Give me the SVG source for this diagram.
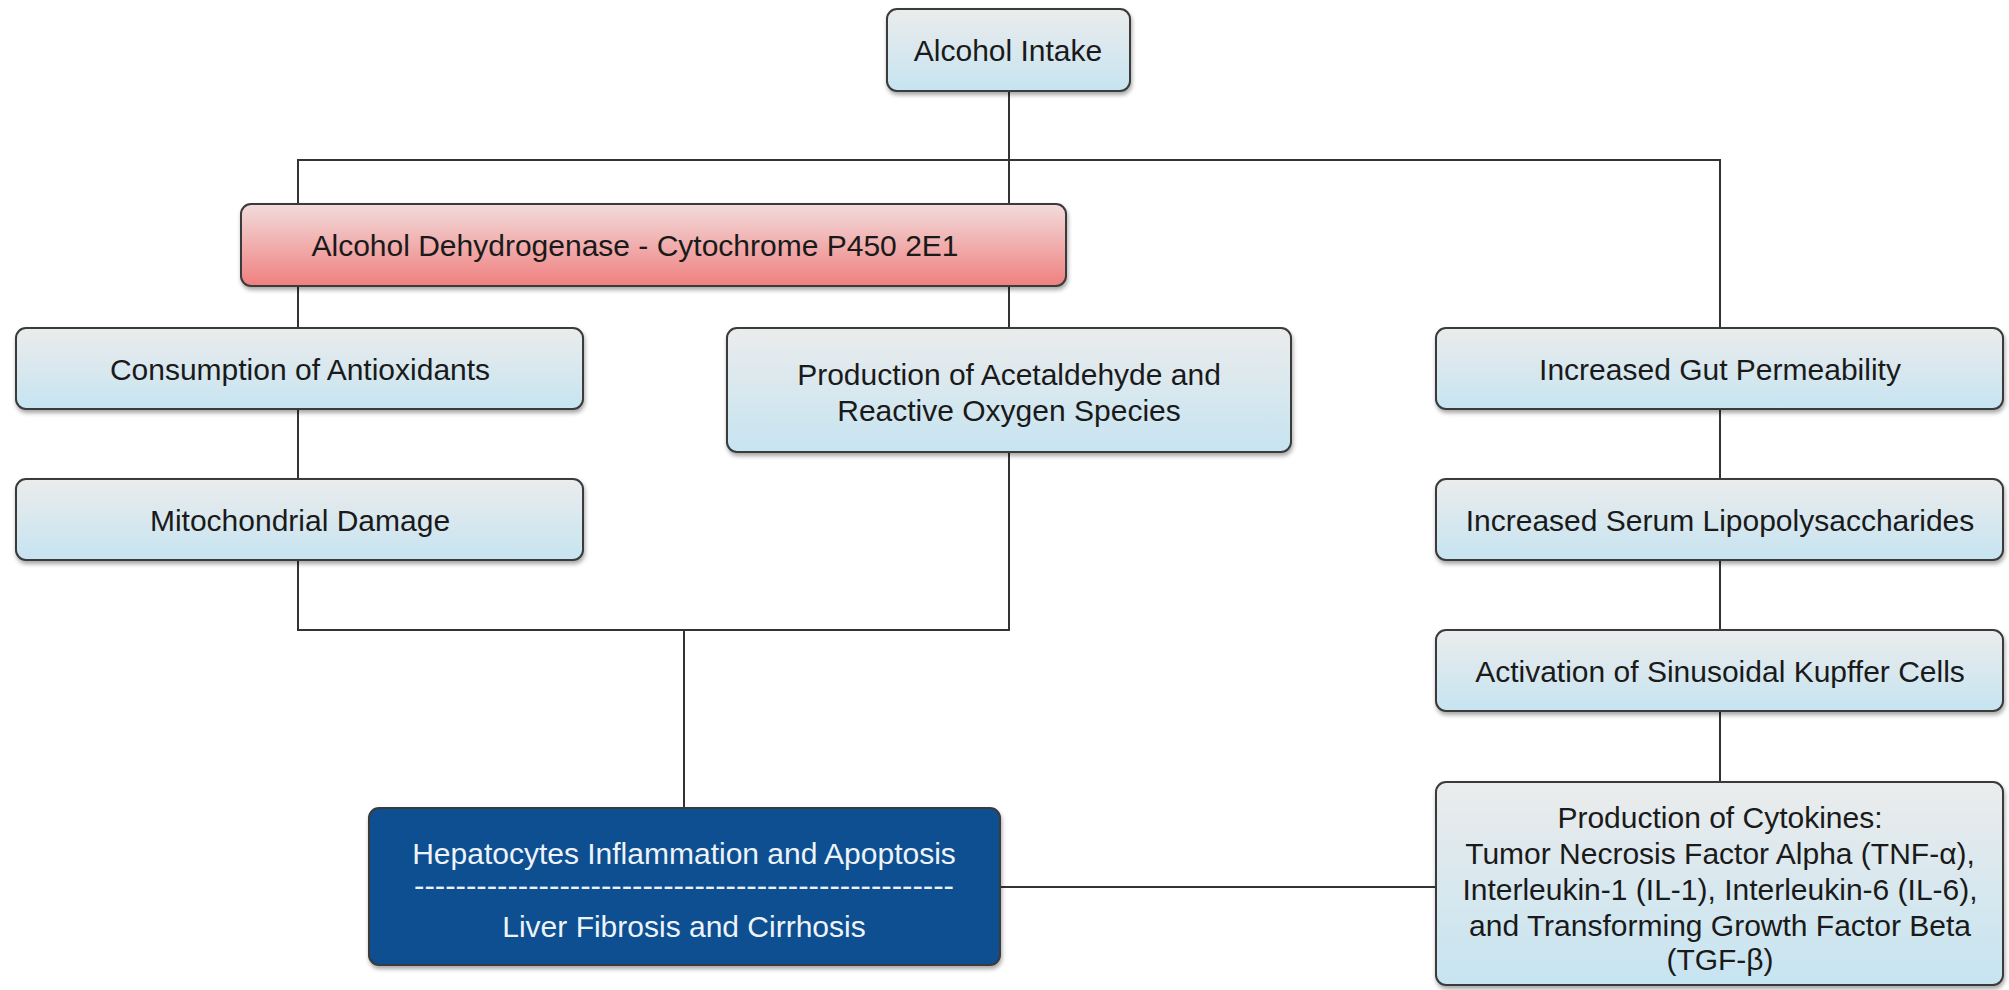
<svg xmlns="http://www.w3.org/2000/svg" width="2009" height="990" viewBox="0 0 2009 990">
<style>
  .box { stroke: #3a3a3a; stroke-width: 2; filter: url(#shadow); }
  .blue { fill: url(#gBlue); }
  .red { fill: url(#gRed); }
  .dark { fill: #0e4f90; }
  .t { font-family: "Liberation Sans", Arial, Helvetica, sans-serif; font-size: 30px; fill: #1a1a1a; text-anchor: middle; }
  .w { fill: #eef3f9; }
  .conn { stroke: #333; stroke-width: 2; fill: none; }
</style>
<defs>
  <linearGradient id="gBlue" x1="0" y1="0" x2="0" y2="1">
    <stop offset="0" stop-color="#ebecec"/>
    <stop offset="1" stop-color="#c6e4f1"/>
  </linearGradient>
  <linearGradient id="gRed" x1="0" y1="0" x2="0" y2="1">
    <stop offset="0" stop-color="#f2dcdc"/>
    <stop offset="1" stop-color="#f07f7f"/>
  </linearGradient>
  <filter id="shadow" x="-5%" y="-10%" width="110%" height="130%">
    <feDropShadow dx="1" dy="3" stdDeviation="2" flood-color="#000" flood-opacity="0.35"/>
  </filter>
</defs>
<rect width="2009" height="990" fill="#ffffff"/>

<g id="connectors">
  <line class="conn" x1="1009" y1="91" x2="1009" y2="204"/>
  <polyline class="conn" points="298,204 298,160 1720,160 1720,328"/>
  <line class="conn" x1="298" y1="286" x2="298" y2="328"/>
  <line class="conn" x1="1009" y1="286" x2="1009" y2="328"/>
  <line class="conn" x1="298" y1="409" x2="298" y2="479"/>
  <polyline class="conn" points="298,560 298,630 1009,630 1009,452"/>
  <line class="conn" x1="684" y1="630" x2="684" y2="808"/>
  <line class="conn" x1="1000" y1="887" x2="1436" y2="887"/>
  <line class="conn" x1="1720" y1="409" x2="1720" y2="479"/>
  <line class="conn" x1="1720" y1="560" x2="1720" y2="630"/>
  <line class="conn" x1="1720" y1="711" x2="1720" y2="782"/>
</g>

<g id="alcohol-intake">
  <rect class="box blue" x="887" y="9" width="243" height="82" rx="10"/>
  <text class="t" x="1008" y="61">Alcohol Intake</text>
</g>

<g id="adh-cyp">
  <rect class="box red" x="241" y="204" width="825" height="82" rx="10"/>
  <text class="t" x="635" y="256">Alcohol Dehydrogenase - Cytochrome P450 2E1</text>
</g>

<g id="consumption">
  <rect class="box blue" x="16" y="328" width="567" height="81" rx="10"/>
  <text class="t" x="300" y="380">Consumption of Antioxidants</text>
</g>

<g id="mitochondrial">
  <rect class="box blue" x="16" y="479" width="567" height="81" rx="10"/>
  <text class="t" x="300" y="531">Mitochondrial Damage</text>
</g>

<g id="acetaldehyde">
  <rect class="box blue" x="727" y="328" width="564" height="124" rx="10"/>
  <text class="t" x="1009" y="385">Production of Acetaldehyde and</text>
  <text class="t" x="1009" y="421">Reactive Oxygen Species</text>
</g>

<g id="gut">
  <rect class="box blue" x="1436" y="328" width="567" height="81" rx="10"/>
  <text class="t" x="1720" y="380">Increased Gut Permeability</text>
</g>

<g id="lps">
  <rect class="box blue" x="1436" y="479" width="567" height="81" rx="10"/>
  <text class="t" x="1720" y="531">Increased Serum Lipopolysaccharides</text>
</g>

<g id="kupffer">
  <rect class="box blue" x="1436" y="630" width="567" height="81" rx="10"/>
  <text class="t" x="1720" y="682">Activation of Sinusoidal Kupffer Cells</text>
</g>

<g id="cytokines">
  <rect class="box blue" x="1436" y="782" width="567" height="203" rx="10"/>
  <text class="t" x="1720" y="828">Production of Cytokines:</text>
  <text class="t" x="1720" y="864">Tumor Necrosis Factor Alpha (TNF-α),</text>
  <text class="t" x="1720" y="900">Interleukin-1 (IL-1), Interleukin-6 (IL-6),</text>
  <text class="t" x="1720" y="936">and Transforming Growth Factor Beta</text>
  <text class="t" x="1720" y="970">(TGF-β)</text>
</g>

<g id="hepatocytes">
  <rect class="box dark" x="369" y="808" width="631" height="157" rx="10"/>
  <text class="t w" x="684" y="864">Hepatocytes Inflammation and Apoptosis</text>
  <text class="t w" x="684" y="896" textLength="540" lengthAdjust="spacingAndGlyphs">----------------------------------------------------</text>
  <text class="t w" x="684" y="937">Liver Fibrosis and Cirrhosis</text>
</g>
</svg>
